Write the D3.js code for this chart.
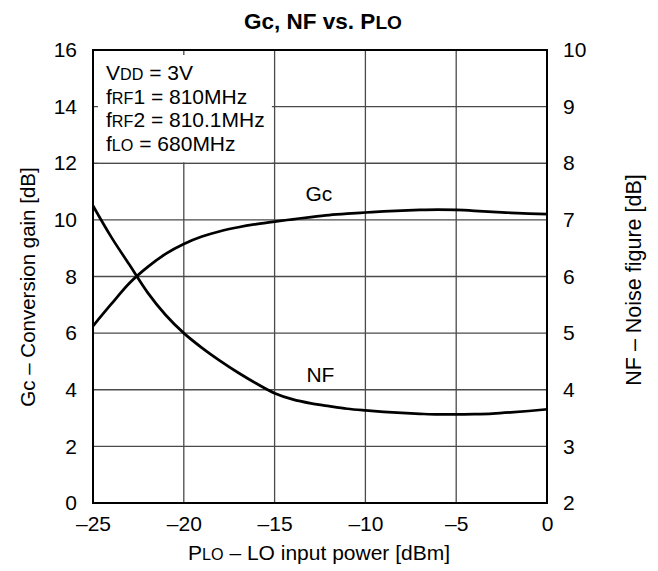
<!DOCTYPE html>
<html>
<head>
<meta charset="utf-8">
<script src="https://cdn.jsdelivr.net/npm/d3@7"></script>
<style>
  html, body { margin: 0; padding: 0; background: #fff; }
  svg { display: block; font-family: "Liberation Sans", Arial, Helvetica, sans-serif; }
</style>
</head>
<body>
<svg id="chart" width="658" height="571"></svg>
<script>
// LO input power sweep [dBm]
const plo = [-25, -24, -23, -22, -21, -20, -19, -18, -17, -16, -15, -14, -13,
             -12, -11, -10, -9, -8, -7, -6, -5, -4, -3, -2, -1, 0];
// Conversion gain Gc [dB] (left axis)
const gc = [6.25, 7.02, 7.76, 8.33, 8.8, 9.15, 9.41, 9.6, 9.74, 9.85, 9.94, 10.02, 10.1,
            10.17, 10.22, 10.26, 10.3, 10.33, 10.35, 10.36, 10.35, 10.32, 10.28, 10.25, 10.22, 10.2];
// Noise figure NF [dB] (right axis)
const nf = [7.25, 6.7, 6.21, 5.72, 5.32, 5.0, 4.74, 4.51, 4.3, 4.11, 3.94, 3.83, 3.76,
            3.71, 3.665, 3.635, 3.61, 3.59, 3.575, 3.565, 3.565, 3.57, 3.58, 3.6, 3.625, 3.655];

const xTicks = [-25, -20, -15, -10, -5, 0];
const gcTicks = [0, 2, 4, 6, 8, 10, 12, 14, 16];
const nfTicks = [2, 3, 4, 5, 6, 7, 8, 9, 10];

// Condition block: each line is a list of [text, smallCaps]
const conditions = [
  [["V", false], ["DD", true], [" = 3V", false]],
  [["f", false], ["RF", true], ["1 = 810MHz", false]],
  [["f", false], ["RF", true], ["2 = 810.1MHz", false]],
  [["f", false], ["LO", true], [" = 680MHz", false]]
];

const W = 658, H = 571;
const m = { left: 93, right: 111, top: 50, bottom: 68 };
const iw = W - m.left - m.right, ih = H - m.top - m.bottom;
const FS = 21;

const svg = d3.select("#chart");
const g = svg.append("g").attr("transform", `translate(${m.left},${m.top})`);

const x = d3.scaleLinear().domain([-25, 0]).range([0, iw]);
const yL = d3.scaleLinear().domain([0, 16]).range([ih, 0]);
const yR = d3.scaleLinear().domain([2, 10]).range([ih, 0]);

// grid
const grid = g.append("g").attr("stroke", "#4a4a4a").attr("stroke-width", 1.3);
grid.selectAll("line.v").data(xTicks.slice(1, -1)).join("line")
  .attr("x1", d => x(d)).attr("x2", d => x(d)).attr("y1", 0).attr("y2", ih);
grid.selectAll("line.h").data(gcTicks.slice(1, -1)).join("line")
  .attr("y1", d => yL(d)).attr("y2", d => yL(d)).attr("x1", 0).attr("x2", iw);

// white panel behind the measurement conditions
g.append("rect")
  .attr("x", 5).attr("y", 5)
  .attr("width", x(-15.15) - 5).attr("height", yL(12) - 6)
  .attr("fill", "#fff");

// curves
const line = (ys, scale) => d3.line()
  .x((d, i) => x(plo[i]))
  .y(d => scale(d))
  .curve(d3.curveMonotoneX)(ys);

g.append("path").attr("d", line(gc, yL))
  .attr("fill", "none").attr("stroke", "#000").attr("stroke-width", 2.7);
g.append("path").attr("d", line(nf, yR))
  .attr("fill", "none").attr("stroke", "#000").attr("stroke-width", 2.7);

// frame
g.append("rect").attr("width", iw).attr("height", ih)
  .attr("fill", "none").attr("stroke", "#000").attr("stroke-width", 2);

// axes (labels only)
const styleAxis = sel => {
  sel.select(".domain").remove();
  sel.selectAll(".tick line").remove();
  sel.selectAll("text").attr("font-size", FS).attr("fill", "#000")
    .attr("font-family", "Liberation Sans, Arial, sans-serif");
};
g.append("g").attr("transform", `translate(0,${ih})`)
  .call(d3.axisBottom(x).tickValues(xTicks).tickSize(0).tickPadding(13)
    .tickFormat(d => d < 0 ? "\u2013" + Math.abs(d) : String(d)))
  .call(styleAxis);
g.append("g")
  .call(d3.axisLeft(yL).tickValues(gcTicks).tickSize(0).tickPadding(16))
  .call(styleAxis);
g.append("g").attr("transform", `translate(${iw},0)`)
  .call(d3.axisRight(yR).tickValues(nfTicks).tickSize(0).tickPadding(16))
  .call(styleAxis);

// helper for text with small-caps subscripts
function richText(parent, parts, attrs, size = FS, smallRatio = 0.77) {
  const t = parent.append("text").attr("font-size", size).attr("fill", "#000");
  Object.entries(attrs).forEach(([k, v]) => t.attr(k, v));
  parts.forEach(([s, small]) => {
    const sp = t.append("tspan").text(s);
    if (small) sp.attr("font-size", size * smallRatio);
  });
  return t;
}

// condition block
conditions.forEach((parts, i) => {
  richText(g, parts, { x: 13, y: 30 + i * 23.6 });
});

// curve labels
g.append("text").attr("x", x(-13.3)).attr("y", yL(10) - 19)
  .attr("font-size", FS).text("Gc");
g.append("text").attr("x", x(-13.25)).attr("y", yR(4) - 8)
  .attr("font-size", FS).text("NF");

// title
richText(svg, [["Gc, NF vs. P", false], ["LO", true]],
  { x: m.left + iw / 2 + 3, y: 29, "text-anchor": "middle", "font-weight": "bold" }, 22.5, 0.85);

// x axis title
richText(svg, [["P", false], ["LO", true], [" \u2013 LO input power [dBm]", false]],
  { x: m.left + iw / 2 - 1, y: 560, "text-anchor": "middle" });

// left axis title
richText(svg, [["Gc \u2013 Conversion gain [dB]", false]],
  { transform: `translate(35,${287}) rotate(-90)`, "text-anchor": "middle" }, 20.5);

// right axis title
richText(svg, [["NF \u2013 Noise figure [dB]", false]],
  { transform: `translate(641,${280}) rotate(-90)`, "text-anchor": "middle" }, 21.5);
</script>
</body>
</html>
